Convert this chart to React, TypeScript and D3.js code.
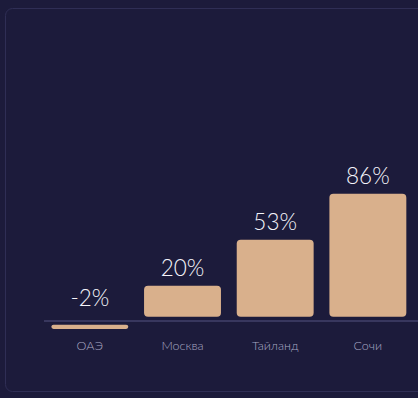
import React from "react";
import * as d3 from "d3";

const categories = ["ОАЭ", "Москва", "Тайланд", "Сочи"];
const values = [-2, 20, 53, 86];
const valueLabels = ["-2%", "20%", "53%", "86%"];

const W = 418;
const H = 398;
const BG = "#1c1b3b";
const BAR = "#d9b08c";

export default function App() {
  const x = d3
    .scaleBand<string>()
    .domain(categories)
    .range([43.5, 414.2])
    .paddingInner(0.17)
    .paddingOuter(0.085);

  // bar length grows from a small minimum
  const len = d3.scaleLinear().domain([0, 86]).range([3, 123]);

  const zeroY = 321;
  const posBottom = 316.7;
  const negTop = 324.7;

  return (
    <svg width={W} height={H} style={{ display: "block", position: "absolute", left: 0, top: 0 }}>
      <style>{`body{margin:0;background:${BG}}`}</style>
      <rect x={0} y={0} width={W} height={H} fill={BG} />
      <rect x={5.5} y={8.5} width={430} height={383} rx={7} fill={BG} stroke="#2f2e55" strokeWidth={1} />
      <line x1={44} x2={W} y1={zeroY} y2={zeroY} stroke="#38375e" strokeWidth={2} />
      {categories.map((c, i) => {
        const v = values[i];
        const bx = x(c) as number;
        const bw = x.bandwidth();
        const h = v >= 0 ? len(v) : Math.max(len(-v) - 1.5, 4);
        const by = v >= 0 ? posBottom - h : negTop;
        const labelY = v >= 0 ? by - 10 : zeroY - 15;
        return (
          <g key={c}>
            <rect x={bx} y={by} width={bw} height={h} rx={Math.min(4, h / 2)} fill={BAR} />
            <text
              x={bx + bw / 2}
              y={labelY}
              textAnchor="middle"
              fill="#f4f4fa"
              fontFamily="Lato, 'Open Sans', sans-serif"
              fontWeight={300}
              fontSize={22.5}
            >
              {valueLabels[i]}
            </text>
            <text
              x={bx + bw / 2}
              y={350}
              textAnchor="middle"
              fill="#a8a8c2"
              fontFamily="Lato, 'Open Sans', sans-serif"
              fontWeight={300}
              fontSize={12.5}
            >
              {c}
            </text>
          </g>
        );
      })}
    </svg>
  );
}
